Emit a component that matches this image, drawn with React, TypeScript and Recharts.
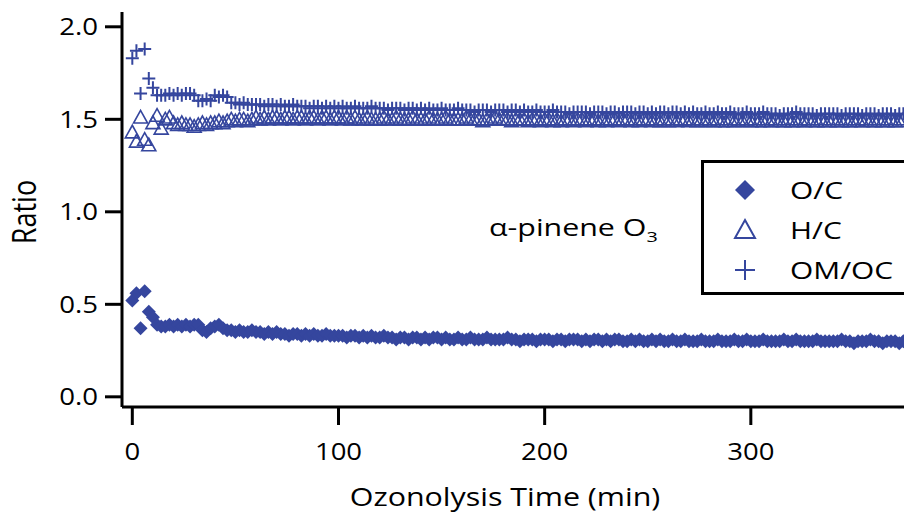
import { ScatterChart, Scatter, XAxis, YAxis, Legend } from 'recharts';

const BLUE = '#35469E';
const FONT = '"Open Sans", sans-serif';

// ozonolysis time (min)
const times = [
  0, 2, 4, 6, 8, 10, 12, 14, 16, 18,
  20, 22, 24, 26, 28, 30, 32, 34, 36, 38,
  40, 42, 44, 46, 48, 50, 52, 54, 56, 58,
  60, 62, 64, 66, 68, 70, 72, 74, 76, 78,
  80, 82, 84, 86, 88, 90, 92, 94, 96, 98,
  100, 102, 104, 106, 108, 110, 112, 114, 116, 118,
  120, 122, 124, 126, 128, 130, 132, 134, 136, 138,
  140, 142, 144, 146, 148, 150, 152, 154, 156, 158,
  160, 162, 164, 166, 168, 170, 172, 174, 176, 178,
  180, 182, 184, 186, 188, 190, 192, 194, 196, 198,
  200, 202, 204, 206, 208, 210, 212, 214, 216, 218,
  220, 222, 224, 226, 228, 230, 232, 234, 236, 238,
  240, 242, 244, 246, 248, 250, 252, 254, 256, 258,
  260, 262, 264, 266, 268, 270, 272, 274, 276, 278,
  280, 282, 284, 286, 288, 290, 292, 294, 296, 298,
  300, 302, 304, 306, 308, 310, 312, 314, 316, 318,
  320, 322, 324, 326, 328, 330, 332, 334, 336, 338,
  340, 342, 344, 346, 348, 350, 352, 354, 356, 358,
  360, 362, 364, 366, 368, 370, 372, 374,
];

const oc = [
  0.52, 0.56, 0.37, 0.57, 0.46, 0.43, 0.39, 0.38, 0.38, 0.39,
  0.38, 0.39, 0.38, 0.39, 0.38, 0.39, 0.39, 0.36, 0.35, 0.37,
  0.38, 0.39, 0.37, 0.36, 0.36, 0.35, 0.36, 0.35, 0.35, 0.36,
  0.35, 0.35, 0.34, 0.35, 0.34, 0.35, 0.34, 0.34, 0.33, 0.34,
  0.34, 0.33, 0.34, 0.33, 0.34, 0.33, 0.33, 0.34, 0.33, 0.33,
  0.33, 0.33, 0.32, 0.33, 0.33, 0.32, 0.33, 0.32, 0.33, 0.32,
  0.32, 0.33, 0.32, 0.32, 0.31, 0.32, 0.32, 0.31, 0.32, 0.32,
  0.31, 0.32, 0.31, 0.32, 0.32, 0.31, 0.32, 0.31, 0.31, 0.32,
  0.31, 0.31, 0.32, 0.31, 0.31, 0.31, 0.32, 0.31, 0.31, 0.31,
  0.31, 0.32, 0.31, 0.31, 0.30, 0.31, 0.31, 0.31, 0.30, 0.31,
  0.31, 0.31, 0.30, 0.31, 0.31, 0.30, 0.31, 0.31, 0.31, 0.30,
  0.31, 0.30, 0.31, 0.31, 0.30, 0.31, 0.30, 0.31, 0.31, 0.30,
  0.30, 0.31, 0.30, 0.31, 0.30, 0.30, 0.31, 0.30, 0.31, 0.30,
  0.30, 0.31, 0.30, 0.30, 0.31, 0.30, 0.30, 0.30, 0.31, 0.30,
  0.30, 0.30, 0.31, 0.30, 0.30, 0.30, 0.31, 0.30, 0.30, 0.31,
  0.30, 0.30, 0.30, 0.31, 0.30, 0.30, 0.30, 0.30, 0.31, 0.30,
  0.30, 0.31, 0.30, 0.30, 0.30, 0.30, 0.31, 0.30, 0.30, 0.30,
  0.30, 0.30, 0.31, 0.30, 0.30, 0.29, 0.30, 0.30, 0.30, 0.31,
  0.30, 0.30, 0.29, 0.30, 0.30, 0.30, 0.29, 0.30,
];

const hc = [
  1.43, 1.38, 1.51, 1.39, 1.36, 1.48, 1.52, 1.45, 1.50, 1.51,
  1.48, 1.47, 1.48, 1.47, 1.47, 1.46, 1.47, 1.48, 1.47, 1.48,
  1.48, 1.49, 1.48, 1.49, 1.50, 1.49, 1.50, 1.50, 1.49, 1.50,
  1.51, 1.50, 1.51, 1.50, 1.51, 1.51, 1.50, 1.51, 1.51, 1.50,
  1.51, 1.51, 1.50, 1.51, 1.51, 1.50, 1.51, 1.51, 1.50, 1.51,
  1.51, 1.50, 1.51, 1.50, 1.51, 1.50, 1.50, 1.51, 1.50, 1.50,
  1.50, 1.51, 1.50, 1.50, 1.51, 1.50, 1.50, 1.50, 1.51, 1.50,
  1.50, 1.50, 1.51, 1.50, 1.50, 1.50, 1.51, 1.50, 1.50, 1.50,
  1.50, 1.51, 1.50, 1.50, 1.50, 1.49, 1.50, 1.50, 1.51, 1.50,
  1.50, 1.50, 1.49, 1.50, 1.50, 1.50, 1.49, 1.50, 1.50, 1.49,
  1.50, 1.50, 1.49, 1.50, 1.49, 1.50, 1.50, 1.49, 1.50, 1.50,
  1.49, 1.50, 1.50, 1.49, 1.50, 1.49, 1.50, 1.50, 1.49, 1.50,
  1.50, 1.49, 1.50, 1.49, 1.50, 1.50, 1.49, 1.50, 1.49, 1.50,
  1.49, 1.50, 1.49, 1.50, 1.50, 1.49, 1.50, 1.49, 1.50, 1.49,
  1.50, 1.49, 1.50, 1.49, 1.49, 1.50, 1.49, 1.50, 1.49, 1.50,
  1.49, 1.50, 1.49, 1.49, 1.50, 1.49, 1.50, 1.49, 1.49, 1.50,
  1.49, 1.49, 1.50, 1.49, 1.50, 1.49, 1.49, 1.50, 1.49, 1.49,
  1.50, 1.49, 1.49, 1.50, 1.49, 1.49, 1.50, 1.49, 1.50, 1.49,
  1.49, 1.50, 1.49, 1.49, 1.50, 1.49, 1.49, 1.50,
];

const omoc = [
  1.83, 1.87, 1.64, 1.88, 1.72, 1.67, 1.63, 1.63, 1.63, 1.64,
  1.63, 1.64, 1.63, 1.64, 1.64, 1.63, 1.60, 1.60, 1.61, 1.60,
  1.63, 1.62, 1.63, 1.62, 1.59, 1.59, 1.58, 1.59, 1.58, 1.58,
  1.58, 1.58, 1.57, 1.58, 1.58, 1.57, 1.58, 1.57, 1.57, 1.58,
  1.57, 1.57, 1.57, 1.56, 1.57, 1.57, 1.56, 1.57, 1.56, 1.57,
  1.56, 1.57, 1.56, 1.56, 1.57, 1.56, 1.56, 1.56, 1.57, 1.56,
  1.56, 1.56, 1.55, 1.56, 1.56, 1.56, 1.55, 1.56, 1.56, 1.55,
  1.56, 1.55, 1.56, 1.55, 1.55, 1.56, 1.55, 1.55, 1.55, 1.56,
  1.55, 1.55, 1.55, 1.54, 1.55, 1.55, 1.55, 1.54, 1.55, 1.55,
  1.55, 1.54, 1.55, 1.55, 1.54, 1.55, 1.54, 1.54, 1.55, 1.54,
  1.54, 1.54, 1.55, 1.54, 1.54, 1.54, 1.53, 1.54, 1.54, 1.54,
  1.54, 1.53, 1.54, 1.54, 1.54, 1.53, 1.54, 1.54, 1.53, 1.54,
  1.54, 1.54, 1.53, 1.54, 1.54, 1.53, 1.54, 1.53, 1.54, 1.54,
  1.53, 1.54, 1.54, 1.53, 1.54, 1.53, 1.54, 1.53, 1.53, 1.54,
  1.53, 1.53, 1.54, 1.53, 1.53, 1.54, 1.53, 1.53, 1.53, 1.54,
  1.53, 1.53, 1.53, 1.54, 1.53, 1.53, 1.53, 1.52, 1.53, 1.53,
  1.53, 1.54, 1.53, 1.53, 1.53, 1.53, 1.52, 1.53, 1.53, 1.53,
  1.53, 1.53, 1.52, 1.53, 1.53, 1.53, 1.53, 1.52, 1.53, 1.53,
  1.53, 1.52, 1.53, 1.53, 1.53, 1.52, 1.53, 1.53,
];

const xTicks = [0, 100, 200, 300];
const yTicks = [0, 0.5, 1.0, 1.5, 2.0];

const seriesNames = ['O/C', 'H/C', 'OM/OC'];

const toPoints = (vals: number[]) => times.map((t, i) => ({ t, v: vals[i] }));
const ocData = toPoints(oc);
const hcData = toPoints(hc);
const omocData = toPoints(omoc);

// marker glyphs, s = half size
const diamond = (cx: number, cy: number, s: number) => (
  <path d={`M${cx},${cy - s}L${cx + s},${cy}L${cx},${cy + s}L${cx - s},${cy}Z`} fill={BLUE} />
);
const triangle = (cx: number, cy: number, s: number, w: number) => (
  <path
    d={`M${cx},${cy - s}L${cx + s},${cy + s * 0.8}L${cx - s},${cy + s * 0.8}Z`}
    fill="none"
    stroke={BLUE}
    strokeWidth={w}
  />
);
const plus = (cx: number, cy: number, s: number, w: number) => (
  <path d={`M${cx - s},${cy}H${cx + s}M${cx},${cy - s}V${cy + s}`} stroke={BLUE} strokeWidth={w} fill="none" />
);

const DiamondShape = (p: any) => diamond(p.cx, p.cy, 7);
const TriangleShape = (p: any) => triangle(p.cx, p.cy, 7, 1.6);
const PlusShape = (p: any) => plus(p.cx, p.cy, 6.5, 2);

const legendGlyphs = [
  (x: number, y: number) => diamond(x, y, 10),
  (x: number, y: number) => triangle(x, y, 10, 2),
  (x: number, y: number) => plus(x, y, 10, 2),
];

// the source figure's lettering is wide, so text is stretched sideways
const XTick = ({ x, y, payload }: any) => (
  <text
    transform={`translate(${x},${y}) scale(1.17,1)`}
    textAnchor="middle"
    dy="0.71em"
    fontSize={23.5}
    fontFamily={FONT}
    fill="#000"
  >
    {payload.value}
  </text>
);

const YTick = ({ x, y, payload }: any) => (
  <text
    transform={`translate(${x},${y}) scale(1.2,1)`}
    textAnchor="end"
    dy="0.36em"
    fontSize={23}
    fontFamily={FONT}
    fill="#000"
  >
    {Number(payload.value).toFixed(1)}
  </text>
);

const LegendBox = () => (
  <div
    style={{
      width: 230,
      height: 129,
      border: '3px solid #000',
      background: '#fff',
      position: 'relative',
      fontFamily: FONT,
      fontSize: 23,
    }}
  >
    {seriesNames.map((name, i) => (
      <div key={name} style={{ position: 'absolute', left: 26, top: 12 + i * 40, height: 30, display: 'flex', alignItems: 'center' }}>
        <svg width={30} height={30}>{legendGlyphs[i](15, 15)}</svg>
        <span style={{ marginLeft: 30, color: '#000', display: 'inline-block', transform: 'scaleX(1.3)', transformOrigin: 'left center', whiteSpace: 'nowrap' }}>
          {name}
        </span>
      </div>
    ))}
  </div>
);

const XTitle = () => (
  <text transform="translate(505,506) scale(1.17,1)" textAnchor="middle" fontSize={26} fontFamily={FONT} fill="#000">
    Ozonolysis Time (min)
  </text>
);

const YTitle = () => (
  <text transform="translate(36,212) rotate(-90) scale(1,1.2)" textAnchor="middle" fontSize={27} fontFamily={FONT} fill="#000">
    Ratio
  </text>
);

export default function App() {
  return (
    <div style={{ position: 'absolute', left: 0, top: 0, width: 904, height: 517, overflow: 'hidden', background: '#fff' }}>
      <ScatterChart width={957} height={517} margin={{ top: 12, right: 0, bottom: 50, left: 0 }}>
        <XAxis
          type="number"
          dataKey="t"
          domain={[-5, 400]}
          ticks={xTicks}
          allowDataOverflow
          height={60}
          tickSize={18}
          tickMargin={18}
          axisLine={{ stroke: '#000', strokeWidth: 3 }}
          tickLine={{ stroke: '#000', strokeWidth: 3 }}
          tick={XTick}
          label={XTitle}
        />
        <YAxis
          type="number"
          dataKey="v"
          domain={[-0.055, 2.08]}
          ticks={yTicks}
          allowDataOverflow
          width={122}
          tickSize={17}
          tickMargin={7}
          axisLine={{ stroke: '#000', strokeWidth: 3 }}
          tickLine={{ stroke: '#000', strokeWidth: 3 }}
          tick={YTick}
          label={YTitle}
        />
        <Legend
          layout="horizontal"
          verticalAlign="middle"
          align="center"
          content={LegendBox}
          wrapperStyle={{ left: 701, top: 160, width: 240 }}
        />
        <Scatter name="O/C" data={ocData} shape={DiamondShape} isAnimationActive={false} />
        <Scatter name="H/C" data={hcData} shape={TriangleShape} isAnimationActive={false} />
        <Scatter name="OM/OC" data={omocData} shape={PlusShape} isAnimationActive={false} />
      </ScatterChart>
      <div
        style={{
          position: 'absolute',
          left: 489,
          top: 211,
          fontFamily: FONT,
          fontSize: 23,
          color: '#000',
          whiteSpace: 'nowrap',
          transform: 'scaleX(1.32)',
          transformOrigin: 'left center',
        }}
      >
        α-pinene O<sub style={{ fontSize: 15 }}>3</sub>
      </div>
    </div>
  );
}
